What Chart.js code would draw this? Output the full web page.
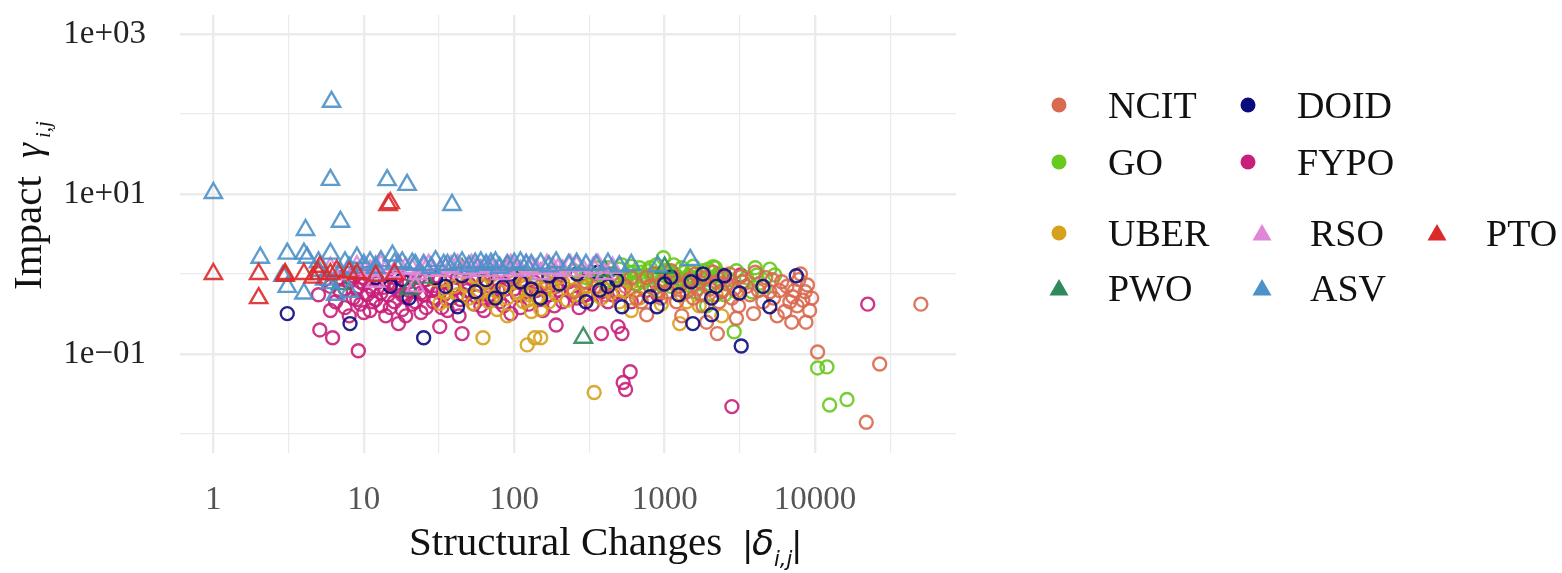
<!DOCTYPE html>
<html>
<head>
<meta charset="utf-8">
<script src="https://cdn.jsdelivr.net/npm/chart.js@4"></script>
<style>
  html, body { margin: 0; padding: 0; background: #fff; }
  #wrap { width: 1562px; height: 573px; }
</style>
</head>
<body>
<div id="wrap"><canvas id="myChart" width="1562" height="573"></canvas></div>
<script>
// axis ticks
const xMajor = [1, 10, 100, 1000, 10000];
const xTickLabels = ['1', '10', '100', '1000', '10000'];
const xMinor = [3.1623, 31.623, 316.23, 3162.3, 31623];
const yMajor = [0.1, 10, 1000];
const yTickLabels = ['1e\u221201', '1e+01', '1e+03'];
const yMinor = [0.01, 1, 100];

// series, [structural changes, impact]
const seriesNames = ['NCIT', 'DOID', 'GO', 'FYPO', 'UBER', 'RSO', 'PTO', 'PWO', 'ASV'];
const seriesColors = ['#d9694f', '#0b0b80', '#68c91e', '#c8207a', '#d6a11c', '#df86d8', '#dc2a2a', '#2e8a58', '#4d91c9'];
const seriesShapes = ['circle', 'circle', 'circle', 'circle', 'circle', 'triangle', 'triangle', 'triangle', 'triangle'];

const ncit = [[50500,0.42],[10400,0.106],[26900,0.075],[21900,0.014],[8900,0.73],[8300,0.47],[8700,0.25],
  [7000,0.25],[7100,0.52],[6300,0.34],[3900,0.32],[2240,0.18],[760,0.31],[2500,0.91],[760,0.91],[3200,0.92],
  [8000,1.0],[5000,0.6],[4500,0.45],[6000,0.8],[3500,0.7],[2800,0.5],[2000,0.65],[1800,0.4],[1600,1.0],
  [1400,0.6],[1200,0.45],[1000,0.8],[900,0.6],[650,0.5],[550,0.7],[450,1.0],[400,0.55],[300,0.8],[250,0.6],
  [200,1.0],[150,0.7],[100,0.9],[70,1.0],[9500,0.5],[7600,0.4],[5600,0.3],[1900,0.25],[1300,0.3],[4000,1.05],
  [2100,1.05],[3000,0.28],[2600,0.75],[1700,0.8],[1100,1.1],[5200,0.85],[7300,0.62],
  [600,0.9],[700,0.45],[800,0.7],[850,1.0],[950,0.5],[1050,0.6],[1150,0.9],[1250,0.7],[1450,0.85],[1550,0.5],
  [1650,0.65],[1750,0.55],[1850,0.9],[2200,0.8],[2300,0.45],[2400,0.6],[2700,1.0],[2900,0.65],[3100,0.4],
  [3300,0.8],[3700,0.55],[4200,0.62],[4700,0.9],[5300,0.5],[5800,0.62],[6500,0.7],[6800,0.45],[7800,0.85],
  [9200,0.35],[8600,0.6]];
const doid = [[3.1,0.32],[8.1,0.24],[25,0.16],[42,0.39],[84,0.69],[262,1.0],[360,1.05],[480,0.84],[520,0.39],
  [370,0.63],[800,0.52],[890,0.39],[1100,0.91],[1240,0.55],[1540,0.24],[2050,0.5],[2050,0.31],[7500,0.95],
  [3150,0.58],[5000,0.39],[3230,0.126],[15,0.7],[20,0.5],[30,0.9],[55,0.6],[110,0.8],[150,0.5],[200,0.75],
  [300,0.45],[420,0.7],[1000,0.75],[1500,0.8],[2500,0.95],[4500,0.7],
  [12,0.9],[18,0.85],[35,0.7],[45,0.95],[65,0.85],[75,0.5],[95,1.0],[130,0.65],[170,0.95],[1800,1.0],[2200,0.7]];
const go = [[980,1.6],[4100,0.97],[5400,0.97],[4300,0.77],[2900,0.19],[10400,0.067],[12000,0.069],[12500,0.023],
  [16300,0.027],[2170,1.2],[4600,0.69],[2100,1.23],[250,1.1],[300,0.9],[350,1.2],[400,0.8],[450,1.0],[500,1.15],
  [550,0.9],[600,1.25],[650,0.75],[700,1.05],[750,0.9],[800,1.2],[850,0.65],[900,1.0],[950,0.85],[1050,1.1],
  [1100,0.7],[1200,0.95],[1300,1.2],[1400,0.8],[1500,1.05],[1600,0.6],[1700,0.9],[1800,1.1],[2000,0.75],
  [2200,0.95],[2500,0.55],[3500,0.9],[1900,0.4],[620,1.05],[820,0.95],[1150,1.3],
  [320,1.05],[380,1.0],[420,1.2],[480,0.95],[520,1.3],[580,1.05],[630,0.9],[680,1.2],[720,0.8],[780,1.1],
  [830,1.0],[880,1.3],[930,0.75],[1000,1.05],[1080,0.9],[1150,1.0],[1250,0.85],[1350,1.05],[1450,0.95],
  [1550,1.25],[1650,0.75],[1750,1.0],[1850,0.85],[1950,1.15],[2300,1.0],[2700,0.85],[3000,1.1],[3300,0.8],
  [4000,1.2],[3800,0.6],[5000,1.15],[2400,0.62]];
const fypo = [[5.1,0.2],[6.2,0.16],[9.2,0.11],[17,0.24],[32,0.22],[45,0.18],[190,0.23],[380,0.18],[490,0.22],
  [520,0.18],[590,0.06],[530,0.044],[550,0.036],[2800,0.022],[22400,0.42],
  [5,0.55],[6,0.7],[6.5,0.45],[7,0.6],[7.5,0.38],[8,0.8],[8.5,0.5],[9,0.65],[9.5,0.42],[10,0.75],[10.5,0.55],
  [11,0.35],[11.5,0.62],[12,0.48],[12.5,0.8],[13,0.4],[13.5,0.68],[14,0.3],[14.5,0.55],[15,0.75],[16,0.45],
  [17,0.62],[18,0.36],[19,0.52],[20,0.8],[21,0.42],[22,0.65],[24,0.33],[25,0.55],[27,0.72],[29,0.45],[31,0.6],
  [33,0.38],[35,0.8],[38,0.5],[40,0.66],[43,0.3],[46,0.55],[50,0.75],[54,0.42],[58,0.62],[63,0.35],[68,0.55],
  [74,0.8],[80,0.45],[88,0.65],[95,0.32],[105,0.55],[115,0.75],[125,0.42],[140,0.62],[155,0.35],[170,0.55],
  [190,0.7],[210,0.45],[240,0.6],[270,0.38],[300,0.55],[350,0.7],[420,0.45],[500,0.6],[650,0.75],[900,0.55],
  [1300,0.85],[2400,0.97],[3200,0.97],[9,1.0],[12,1.1],[20,1.0],[30,0.95],[10,0.9],[16,0.9],[26,0.85],
  [5.5,0.85],[6,0.35],[7,0.9],[7.5,0.65],[8,0.3],[8.5,0.95],[9,0.48],[9.5,0.8],[10,0.33],[10.5,1.0],[11,0.7],
  [11.5,0.45],[12,0.9],[13,0.58],[14,0.85],[15,0.38],[16,0.68],[17,0.95],[18,0.55],[19,0.3],[20,0.62],[22,0.45],
  [23,0.9],[24,0.58],[26,0.38],[28,0.62],[30,0.5],[32,0.85],[34,0.55],[36,0.35],[39,0.7],[42,0.9],[44,0.48],
  [48,0.62],[52,0.9],[56,0.52],[60,0.4],[66,0.72],[72,0.5],[78,0.62],[85,0.4],[92,0.85],[100,0.65],[110,0.38],
  [120,0.6],[135,0.8],[150,0.48],[165,0.7],[185,0.4],[200,0.62],[230,0.8],[260,0.5],[290,0.7],[330,0.42],
  [380,0.6],[450,0.55],[600,0.45],[750,0.62]];
const uber = [[62,0.16],[122,0.13],[137,0.16],[150,0.16],[340,0.033],[1260,0.24],[30,0.85],[32,0.43],[36,0.47],
  [40,0.7],[45,0.95],[53,0.43],[58,0.6],[65,0.8],[73,0.52],[77,0.36],[85,0.7],[95,0.9],[105,0.6],[115,0.45],
  [122,0.47],[133,0.63],[150,0.36],[165,0.8],[180,0.69],[200,0.91],[225,0.47],[250,0.63],[280,0.78],[310,0.5],
  [350,0.95],[410,0.63],[450,0.84],[500,0.45],[560,0.84],[620,0.6],[700,0.95],[800,0.7],[950,0.42],[1100,0.8],
  [1300,0.55],[1500,0.9],[1700,0.4],[2000,0.7],[2400,0.3],[3000,0.6],[120,1.0],[180,1.05],[260,1.0],
  [35,0.6],[38,0.9],[42,0.55],[48,0.75],[50,0.5],[55,0.9],[60,0.72],[68,0.45],[70,0.95],[80,0.6],[90,0.5],
  [100,0.78],[110,0.95],[125,0.55],[140,0.9],[145,0.5],[160,0.65],[170,0.45],[190,0.55],[210,0.78],[240,0.9],
  [270,0.55],[300,0.68],[330,0.85],[380,0.5],[430,0.72],[480,0.95],[530,0.62],[600,0.78],[680,0.5],[750,0.85],
  [900,0.62],[1000,0.95],[1200,0.7],[1400,0.45],[1800,0.85],[2200,0.55],[600,0.35],[130,0.34],[90,0.3]];
const rso = [[6,1.2],[7,1.0],[9,1.25],[11,1.1],[13,1.3],[16,1.05],[19,1.2],[23,1.0],[27,1.3],[32,1.1],[38,1.25],
  [45,1.05],[52,1.3],[60,1.1],[70,1.2],[82,1.0],[95,1.3],[110,1.1],[130,1.2],[150,1.0],[180,1.2],[210,1.1],
  [260,1.25],[335,1.2],[400,1.0],
  [8,1.1],[10,1.15],[12,1.25],[14,1.15],[17,1.3],[21,1.15],[25,1.2],[29,1.1],[35,1.2],[42,1.3],[48,1.15],
  [56,1.2],[65,1.25],[76,1.1],[88,1.2],[100,1.15],[120,1.3],[140,1.15],[165,1.3],[195,1.15],[235,1.3],
  [290,1.1],[360,1.3],[450,1.2],[12,0.8],[22,0.7]];
const pto = [[1,1.0],[2,1.0],[2,0.5],[3,1.0],[4,1.0],[4.6,0.9],[5,1.0],[5.1,1.23],[6,1.0],[6.6,1.1],[8,1.05],
  [9,1.0],[14.5,7.3],[15,7.7],[16,1.0],[12,0.95],[3,0.95]];
const pwo = [[288,0.16],[90,1.23],[7,0.75],[25,0.9],[60,1.1],[150,1.0],[400,1.1],[1000,1.2],[20,0.65],[45,1.15]];
const asv = [[1,10.3],[6.1,142],[6,15],[14.3,14.9],[19.4,13],[7,4.5],[4.1,3.55],[38.6,7.3],[2.05,1.6],[3.1,1.8],
  [4,1.8],[4.2,1.6],[6,1.8],[9,1.6],[15.5,1.7],[7.5,1.4],[5,1.4],[3.1,0.69],[4,0.57],[6,0.77],[21,1.35],
  [34,1.3],[1480,1.5],[10,1.3],[12,1.2],[25,1.3],[28,1.2],[40,1.35],[50,1.25],[65,1.3],[80,1.2],[100,1.35],
  [130,1.3],[170,1.25],[230,1.3],[300,1.3],[500,1.25],[8,0.6],[2.9,0.95],
  [11,1.4],[13,1.45],[16,1.35],[18,1.4],[22,1.3],[30,1.45],[36,1.3],[45,1.4],[55,1.35],[60,1.4],[70,1.35],
  [75,1.4],[90,1.3],[110,1.4],[120,1.3],[150,1.35],[190,1.4],[260,1.35],[350,1.3],[420,1.35],[600,1.3],
  [900,1.25],[8,1.2],[5,1.1],[7,1.05],[12,0.95],[6.5,0.55],[5.5,0.85]];

const seriesData = [ncit, doid, go, fypo, uber, rso, pto, pwo, asv];
// drawing order, later = on top
const drawOrder = ['FYPO', 'UBER', 'GO', 'NCIT', 'DOID', 'PWO', 'RSO', 'ASV', 'PTO'];

const serif = '"Liberation Serif", "Times New Roman", serif';

function hexA(hex, a) {
    const n = parseInt(hex.slice(1), 16);
    return `rgba(${n >> 16}, ${(n >> 8) & 255}, ${n & 255}, ${a})`;
}

const datasets = seriesNames.map((name, i) => ({
    label: name,
    data: seriesData[i].map(p => ({ x: p[0], y: p[1] })),
    pointStyle: seriesShapes[i],
    pointRadius: seriesShapes[i] === 'triangle' ? 10 : 6.5,
    borderWidth: 2.4,
    borderColor: hexA(seriesColors[i], 0.9),
    backgroundColor: 'rgba(0,0,0,0)',
    order: drawOrder.length - drawOrder.indexOf(name),
}));

// legend layout (two groups, as in the figure)
const legendSlots = [
    { name: 'NCIT', mx: 1059, my: 105, tx: 1108 },
    { name: 'DOID', mx: 1248, my: 105, tx: 1297 },
    { name: 'GO', mx: 1059, my: 162, tx: 1108 },
    { name: 'FYPO', mx: 1248, my: 162, tx: 1297 },
    { name: 'UBER', mx: 1059, my: 233, tx: 1108 },
    { name: 'RSO', mx: 1262, my: 233, tx: 1310 },
    { name: 'PTO', mx: 1437, my: 233, tx: 1486 },
    { name: 'PWO', mx: 1059, my: 288, tx: 1108 },
    { name: 'ASV', mx: 1262, my: 288, tx: 1310 },
];

const decorPlugin = {
    id: 'decor',
    afterDraw(chart) {
        const ctx = chart.ctx;
        ctx.save();
        ctx.fillStyle = '#111';
        ctx.textAlign = 'left';
        ctx.textBaseline = 'alphabetic';

        // legend
        legendSlots.forEach(s => {
            const i = seriesNames.indexOf(s.name);
            ctx.fillStyle = seriesColors[i];
            ctx.strokeStyle = seriesColors[i];
            Chart.helpers.drawPoint(ctx, {
                pointStyle: seriesShapes[i],
                radius: seriesShapes[i] === 'triangle' ? 11 : 7.5,
                rotation: 0,
                borderWidth: 0
            }, s.mx, s.my + (seriesShapes[i] === 'triangle' ? 2 : 0));
            ctx.fillStyle = '#111';
            ctx.font = '38px ' + serif;
            ctx.fillText(s.name, s.tx, s.my + 13);
        });

        // x title
        ctx.font = '41px ' + serif;
        ctx.fillText('Structural Changes', 409, 555);
        ctx.font = '34px "DejaVu Sans"';
        ctx.fillText('|', 742, 556);
        ctx.font = 'italic 36px "DejaVu Sans"';
        ctx.fillText('\u03b4', 752, 555);
        ctx.font = 'italic 21px "DejaVu Sans"';
        ctx.fillText('i,j', 774, 566);
        ctx.font = '34px "DejaVu Sans"';
        ctx.fillText('|', 791, 556);

        // y title
        ctx.translate(41, 290);
        ctx.rotate(-Math.PI / 2);
        ctx.font = '41px ' + serif;
        ctx.fillText('Impact', 0, 0);
        ctx.font = 'italic 38px ' + serif;
        ctx.fillText('\u03b3', 132, 0);
        ctx.font = 'italic 21px ' + serif;
        ctx.fillText('i,j', 152, 9);
        ctx.restore();
    }
};

function gridWidth(majors) {
    return (c) => (c.tick && majors.some(v => Math.abs(v - c.tick.value) / v < 1e-6)) ? 2.4 : 1.2;
}

new Chart(document.getElementById('myChart').getContext('2d'), {
    type: 'scatter',
    data: { datasets: datasets },
    options: {
        responsive: false,
        animation: false,
        devicePixelRatio: 1,
        layout: { padding: { top: 15, right: 606, left: 0, bottom: 0 } },
        plugins: { legend: { display: false }, tooltip: { enabled: false } },
        scales: {
            x: {
                type: 'logarithmic',
                min: 0.604,
                max: 86500,
                afterBuildTicks: (s) => {
                    s.ticks = xMajor.concat(xMinor).sort((a, b) => a - b).map(v => ({ value: v }));
                },
                afterFit: (s) => {
                    s.height = 120;
                    s.paddingLeft = 0;
                    s.paddingRight = 0;
                },
                ticks: {
                    autoSkip: false,
                    maxRotation: 0,
                    padding: 28,
                    color: '#555',
                    font: { family: serif, size: 33 },
                    callback: (v) => {
                        const k = xMajor.indexOf(v);
                        return k >= 0 ? xTickLabels[k] : '';
                    }
                },
                grid: { color: '#ebebeb', lineWidth: gridWidth(xMajor), drawTicks: false },
                border: { display: false }
            },
            y: {
                type: 'logarithmic',
                min: 0.00579,
                max: 1728,
                afterBuildTicks: (s) => {
                    s.ticks = yMajor.concat(yMinor).sort((a, b) => a - b).map(v => ({ value: v }));
                },
                afterFit: (s) => {
                    s.width = 180;
                    s.paddingTop = 0;
                    s.paddingBottom = 0;
                },
                ticks: {
                    autoSkip: false,
                    padding: 34,
                    color: '#222',
                    font: { family: serif, size: 33 },
                    callback: (v) => {
                        const k = yMajor.indexOf(v);
                        return k >= 0 ? yTickLabels[k] : '';
                    }
                },
                grid: { color: '#ebebeb', lineWidth: gridWidth(yMajor), drawTicks: false },
                border: { display: false }
            }
        }
    },
    plugins: [decorPlugin]
});
</script>
</body>
</html>
